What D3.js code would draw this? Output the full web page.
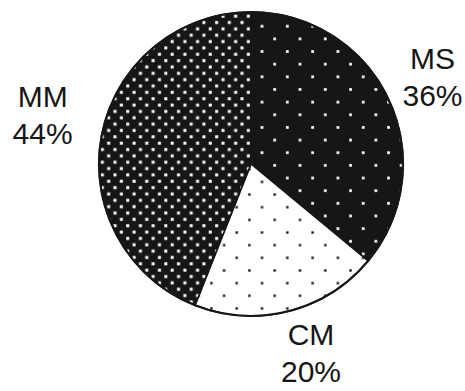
<!DOCTYPE html>
<html>
<head>
<meta charset="utf-8">
<script src="https://cdn.jsdelivr.net/npm/d3@7"></script>
<style>
  html, body { margin: 0; padding: 0; background: #fff; }
  svg { display: block; }
</style>
</head>
<body>
<svg id="chart" width="465" height="391"></svg>
<script>
// ---- data ----
const categories = ["MS", "CM", "MM"];
const values = [36, 20, 44];
const percentLabels = ["36%", "20%", "44%"];

// ---- layout / style (kept separate from data) ----
const W = 465, H = 391;
const cx = 251, cy = 164, R = 152;
const labelRadius = 205;
const labelNudge = { MS: [-4, 0], CM: [9, -10], MM: [-7, -11] };
const fontSize = 30, lineGap = 37;
const ink = "#161616";

const svg = d3.select("#chart");
const defs = svg.append("defs");

function makePattern(id, period, dot, bg, fg, tx, ty) {
  const p = defs.append("pattern")
    .attr("id", id)
    .attr("patternUnits", "userSpaceOnUse")
    .attr("width", period).attr("height", period)
    .attr("patternTransform", `translate(${tx},${ty})`);
  p.append("rect").attr("width", period).attr("height", period).attr("fill", bg);
  const q = period / 4;
  [[q, q], [3 * q, 3 * q]].forEach(([x, y]) => {
    p.append("rect")
      .attr("x", x - dot / 2).attr("y", y - dot / 2)
      .attr("width", dot).attr("height", dot)
      .attr("fill", fg);
  });
}
makePattern("pMS", 25.3, 2.7, ink, "#fff", 4.7, 7.7);
makePattern("pCM", 25.3, 2.4, "#fff", ink, 4.7, 11.6);
makePattern("pMM", 12.7, 3.0, ink, "#fff", 6.9, 1.4);
const fills = { MS: "url(#pMS)", CM: "url(#pCM)", MM: "url(#pMM)" };

const table = categories.map((c, i) => ({ cat: c, value: values[i], pct: percentLabels[i] }));

const pie = d3.pie().value(d => d.value).sort(null).startAngle(0).endAngle(2 * Math.PI);
const arcs = pie(table);
const arc = d3.arc().innerRadius(0).outerRadius(R);
const labelArc = d3.arc().innerRadius(labelRadius).outerRadius(labelRadius);

const g = svg.append("g").attr("transform", `translate(${cx},${cy})`);

g.selectAll("path.slice")
  .data(arcs)
  .join("path")
  .attr("class", "slice")
  .attr("d", arc)
  .attr("fill", d => fills[d.data.cat])
  .attr("stroke", ink)
  .attr("stroke-width", 1.6)
  .attr("stroke-linejoin", "round");

// outer outline
g.append("circle")
  .attr("r", R)
  .attr("fill", "none")
  .attr("stroke", ink)
  .attr("stroke-width", 2.2);

const labels = g.selectAll("text.lab")
  .data(arcs)
  .join("text")
  .attr("class", "lab")
  .attr("font-family", "'Liberation Sans', Arial, Helvetica, sans-serif")
  .attr("font-size", fontSize)
  .attr("fill", ink)
  .attr("text-anchor", "middle")
  .attr("transform", d => {
    const [x, y] = labelArc.centroid(d);
    const [nx, ny] = labelNudge[d.data.cat];
    return `translate(${x + nx},${y + ny})`;
  });

labels.append("tspan")
  .attr("x", 0)
  .attr("y", -lineGap / 2 + fontSize * 0.36)
  .text(d => d.data.cat);
labels.append("tspan")
  .attr("x", 0)
  .attr("y", lineGap / 2 + fontSize * 0.36)
  .text(d => d.data.pct);
</script>
</body>
</html>
